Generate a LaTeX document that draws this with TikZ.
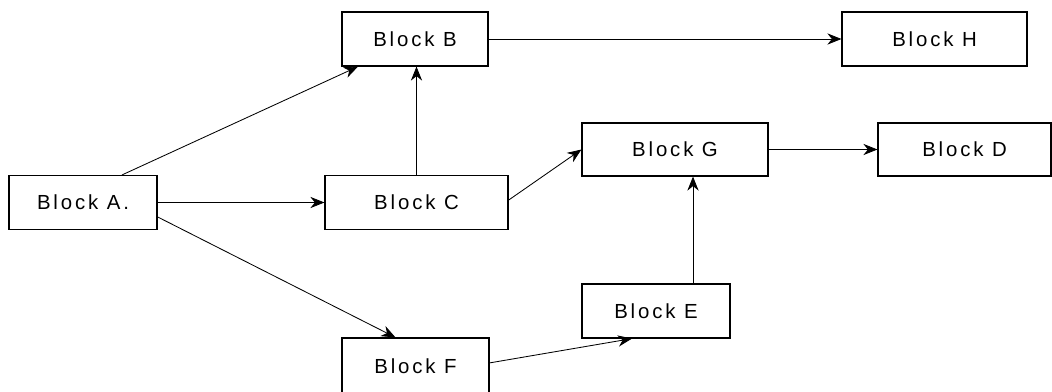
\documentclass[tikz,border=0pt]{standalone}
\usepackage{fontspec}
\setmainfont{Liberation Sans}[LetterSpace=14]
\usepackage{tikz}
\usetikzlibrary{arrows.meta, positioning}

\begin{document}
\begin{tikzpicture}[
            x=0.025cm, y=-0.025cm,
            block/.style={rectangle, draw, line width=0.8pt, minimum height=1.35cm, font=\fontsize{14.5}{17}\selectfont, inner sep=0pt},
            line/.style={draw, line width=0.6pt, -{Stealth[length=10pt, width=8pt]}},
        ]
            % Lienzo
            \clip (0,0) rectangle (1052,391);
            \fill[white] (0,0) rectangle (1052,391);

            % Bloques
            \node[block, minimum width=3.7cm] (blockA) at (83,202.5) {Block A.};
            \node[block, minimum width=3.65cm] (blockB) at (415,39) {Block B};
            \node[block, minimum width=4.575cm] (blockC) at (416.5,202.5) {Block C};
            \node[block, minimum width=4.625cm] (blockH) at (934.5,39) {Block H};
            \node[block, minimum width=4.65cm, minimum height=1.325cm] (blockG) at (675,149.5) {Block G};
            \node[block, minimum width=4.325cm, minimum height=1.325cm] (blockD) at (964.5,149.5) {Block D};
            \node[block, minimum width=3.7cm] (blockE) at (656,311) {Block E};
            \node[block, minimum width=3.675cm, minimum height=1.425cm] (blockF) at (415.5,366.5) {Block F};

            % Conexiones
            \draw[line] ([xshift=0.975cm]blockA.north) -- ([xshift=-1.425cm]blockB.south);
            \draw[line] (blockA.east) -- (blockC.west);
            \draw[line] ([yshift=-0.36cm]blockA.east) -- ([xshift=-0.5cm]blockF.north);
            \draw[line] (blockC.north) -- (blockC.north |- blockB.south);
            \draw[line] ([yshift=0.06cm]blockC.east) -- (blockG.west);
            \draw[line] (blockB.east) -- (blockH.west);
            \draw[line] (blockG.east) -- (blockD.west);
            \draw[line] ([xshift=0.925cm]blockE.north) -- ([xshift=0.925cm]blockE.north |- blockG.south);
            \draw[line] ([yshift=0.09cm]blockF.east) -- ([xshift=-0.6cm]blockE.south);
        \end{tikzpicture}
\end{document}
